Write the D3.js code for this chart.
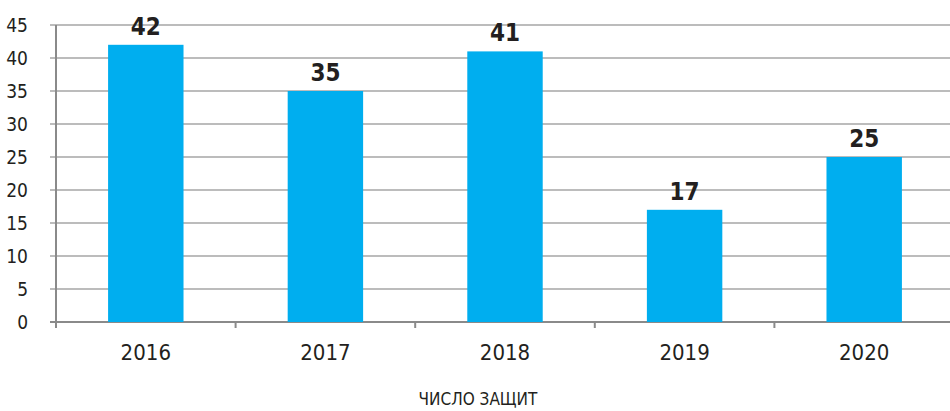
<!DOCTYPE html>
<html lang="ru">
<head>
<meta charset="UTF-8">
<title>Число защит</title>
<script src="https://d3js.org/d3.v7.min.js"></script>
<style>
  body { margin: 0; background: #fff; }
  text { font-family: "Liberation Sans Narrow", "DejaVu Sans Condensed", sans-serif; fill: #231f20; }
</style>
</head>
<body>
<script>
    // data
    const years = ["2016", "2017", "2018", "2019", "2020"];
    const defenses = [42, 35, 41, 17, 25];
    const yTicks = [0, 5, 10, 15, 20, 25, 30, 35, 40, 45];
    const xTitle = "ЧИСЛО ЗАЩИТ";

    const width = 950, height = 411;

    let svg = d3.select("body").append("svg")
        .attr("width", width)
        .attr("height", height);

    let x = d3.scaleBand()
        .domain(years)
        .range([56, 954])
        .paddingInner(0.58)
        .paddingOuter(0.29);

    let y = d3.scaleLinear()
        .domain([0, 45])
        .range([322, 25]);

    // gridlines
    svg.append("g")
        .selectAll("line")
        .data(yTicks)
        .enter().append("line")
        .attr("x1", 50)
        .attr("x2", width)
        .attr("y1", d => y(d))
        .attr("y2", d => y(d))
        .attr("stroke", d => d === 0 ? "#8a8a8a" : "#a6a6a6")
        .attr("stroke-width", d => d === 0 ? 2 : 1.5);

    // y tick labels
    svg.append("g")
        .selectAll("text")
        .data(yTicks)
        .enter().append("text")
        .attr("x", 28)
        .attr("y", d => y(d))
        .attr("text-anchor", "end")
        .attr("dominant-baseline", "central")
        .attr("font-size", "19px")
        .text(d => d);

    // y axis line
    svg.append("line")
        .attr("x1", 56).attr("x2", 56)
        .attr("y1", y(45)).attr("y2", y(0) + 6)
        .attr("stroke", "#8a8a8a")
        .attr("stroke-width", 2);

    // x ticks between categories
    let step = x.step();
    let bounds = years.map((d, i) => 56 + (i + 1) * step);
    svg.append("g")
        .selectAll("line")
        .data(bounds)
        .enter().append("line")
        .attr("x1", d => d).attr("x2", d => d)
        .attr("y1", y(0)).attr("y2", y(0) + 6)
        .attr("stroke", "#8a8a8a")
        .attr("stroke-width", 2);

    // bars
    svg.append("g")
        .selectAll("rect")
        .data(defenses)
        .enter().append("rect")
        .attr("x", (d, i) => x(years[i]))
        .attr("y", d => y(d))
        .attr("width", x.bandwidth())
        .attr("height", d => y(0) - y(d))
        .attr("fill", "#00aeef");

    // value labels
    svg.append("g")
        .selectAll("text")
        .data(defenses)
        .enter().append("text")
        .attr("x", (d, i) => x(years[i]) + x.bandwidth() / 2)
        .attr("y", d => y(d) - 10)
        .attr("text-anchor", "middle")
        .attr("font-size", "24px")
        .attr("font-weight", "bold")
        .text(d => d);

    // x labels
    svg.append("g")
        .selectAll("text")
        .data(years)
        .enter().append("text")
        .attr("x", d => x(d) + x.bandwidth() / 2)
        .attr("y", 360)
        .attr("text-anchor", "middle")
        .attr("font-size", "22px")
        .text(d => d);

    // axis title
    svg.append("text")
        .attr("x", 478)
        .attr("y", 405)
        .attr("text-anchor", "middle")
        .attr("font-size", "17px")
        .text(xTitle);
</script>
</body>
</html>
